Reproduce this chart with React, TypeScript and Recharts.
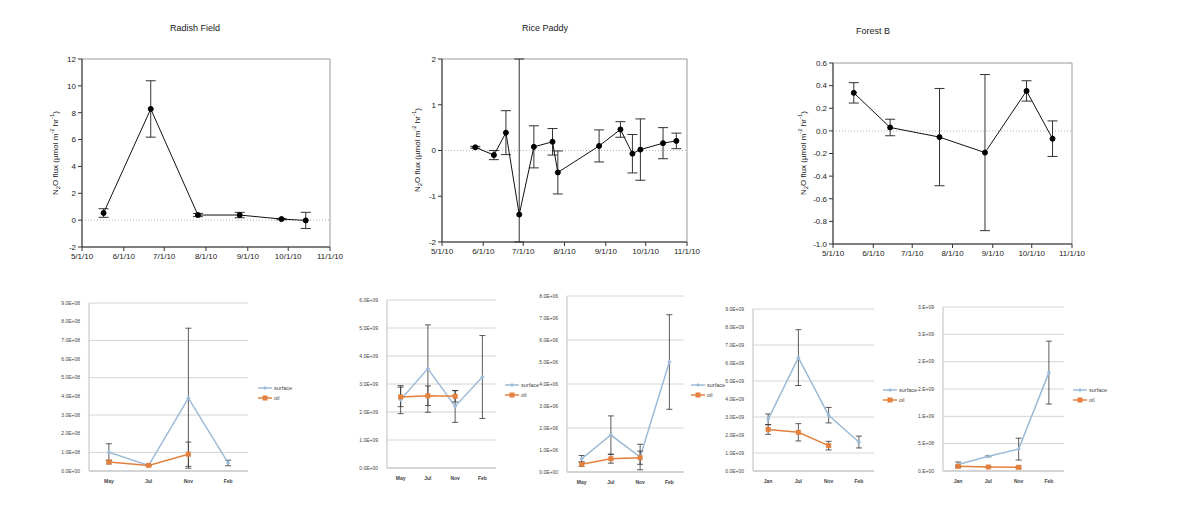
import React from "react";
import {
  LineChart,
  Line,
  XAxis,
  YAxis,
  ErrorBar,
  ReferenceLine,
  ReferenceArea,
  CartesianGrid,
  Legend,
} from "recharts";

const FONT = "'Liberation Sans', Arial, Helvetica, sans-serif";
const SURF = "#9dbbd8";
const OIL = "#e3803e";

// ---- top row: N2O flux by sampling date ----
const monthStarts = ["2010-05-01", "2010-06-01", "2010-07-01", "2010-08-01", "2010-09-01", "2010-10-01", "2010-11-01"];
const monthLabels = ["5/1/10", "6/1/10", "7/1/10", "8/1/10", "9/1/10", "10/1/10", "11/1/10"];

const radishDates = ["2010-05-17", "2010-06-21", "2010-07-26", "2010-08-26", "2010-09-26", "2010-10-14"];
const radishFlux = [0.53, 8.28, 0.38, 0.38, 0.08, -0.02];
const radishErr = [[0.32, 0.32], [2.1, 2.1], [0.12, 0.12], [0.2, 0.2], [0.05, 0.05], [0.6, 0.6]];

const riceDates = [
  "2010-05-26", "2010-06-09", "2010-06-18", "2010-06-28", "2010-07-09", "2010-07-23", "2010-07-27",
  "2010-08-27", "2010-09-12", "2010-09-21", "2010-09-27", "2010-10-14", "2010-10-24",
];
const riceFlux = [0.07, -0.1, 0.39, -1.4, 0.08, 0.19, -0.48, 0.1, 0.46, -0.07, 0.02, 0.16, 0.21];
const riceErr = [
  [0.02, 0.02], [0.1, 0.1], [0.48, 0.48], [0.6, 3.4], [0.46, 0.46], [0.29, 0.29], [0.47, 0.47],
  [0.35, 0.35], [0.17, 0.17], [0.42, 0.42], [0.67, 0.67], [0.34, 0.34], [0.17, 0.17],
];

const forestDates = ["2010-05-17", "2010-06-14", "2010-07-22", "2010-08-26", "2010-09-27", "2010-10-17"];
const forestFlux = [0.336, 0.03, -0.055, -0.192, 0.353, -0.069];
const forestErr = [[0.09, 0.09], [0.073, 0.073], [0.43, 0.43], [0.69, 0.69], [0.09, 0.09], [0.157, 0.157]];

// ---- bottom row: surface vs oil ----
const seasonsA = ["May", "Jul", "Nov", "Feb"];
const seasonsB = ["Jan", "Jul", "Nov", "Feb"];

const b1Surface = [1.0e8, 0.3e8, 3.9e8, 0.43e8];
const b1SurfaceErr = [0.46e8, 0.02e8, 3.75e8, 0.15e8];
const b1Oil = [0.48e8, 0.3e8, 0.9e8, null];
const b1OilErr = [0.1e8, 0.02e8, 0.65e8, null];

const b2Surface = [2.44e9, 3.55e9, 2.2e9, 3.25e9];
const b2SurfaceErr = [0.5e9, 1.56e9, 0.57e9, 1.48e9];
const b2Oil = [2.54e9, 2.58e9, 2.56e9, null];
const b2OilErr = [0.35e9, 0.35e9, 0.2e9, null];

const b3Surface = [0.6e6, 1.68e6, 0.68e6, 5.0e6];
const b3SurfaceErr = [0.15e6, 0.87e6, 0.58e6, 2.15e6];
const b3Oil = [0.35e6, 0.6e6, 0.65e6, null];
const b3OilErr = [0.1e6, 0.2e6, 0.3e6, null];

const b4Surface = [2.87e9, 6.3e9, 3.1e9, 1.61e9];
const b4SurfaceErr = [0.3e9, 1.55e9, 0.43e9, 0.33e9];
const b4Oil = [2.31e9, 2.15e9, 1.41e9, null];
const b4OilErr = [0.27e9, 0.48e9, 0.24e9, null];

const b5Surface = [0.12e9, 0.27e9, 0.4e9, 1.8e9];
const b5SurfaceErr = [0.045e9, 0.01e9, 0.2e9, 0.575e9];
const b5Oil = [0.085e9, 0.073e9, 0.067e9, null];
const b5OilErr = [0.02e9, 0.01e9, 0.02e9, null];

const DAY = 86400000;
const t0 = Date.parse("2010-05-01");
const dayOf = (d: string) => (Date.parse(d) - t0) / DAY;
const tickDays = monthStarts.map(dayOf);

const expFmt = (digits: number) => (v: number) => {
  if (v === 0) return digits ? "0." + "0".repeat(digits) + "E+00" : "0.E+00";
  const [m, e] = v.toExponential(digits).split("e");
  const ex = parseInt(e, 10);
  return (digits ? m : m + ".") + "E" + (ex < 0 ? "-" : "+") + String(Math.abs(ex)).padStart(2, "0");
};

function TopPanel({ title, dates, flux, err, yMin, yMax, yTicks, decimals, box, titleAt, labelAt }: any) {
  const rows = dates.map((d: string, i: number) => ({ day: dayOf(d), flux: flux[i], err: err[i] }));
  const x0 = box.left - 50;
  const w = box.right - x0 + 20;
  const h = box.bottom + 30;
  return (
    <>
      <div
        style={{
          position: "absolute", left: titleAt[0], top: titleAt[1], transform: "translate(-50%,-50%)",
          fontFamily: FONT, fontSize: 9, color: "#222", whiteSpace: "nowrap",
        }}
      >
        {title}
      </div>
      <div
        style={{
          position: "absolute", left: labelAt[0], top: labelAt[1],
          transform: "translate(-50%,-50%) rotate(-90deg)",
          fontFamily: FONT, fontSize: 8, color: "#222", whiteSpace: "nowrap", lineHeight: "10px",
        }}
      >
        N<sub style={{ fontSize: 6 }}>2</sub>O flux (µmol m<sup style={{ fontSize: 6 }}>-2</sup> hr
        <sup style={{ fontSize: 6 }}>-1</sup>)
      </div>
      <div style={{ position: "absolute", left: x0, top: 0 }}>
        <LineChart
          width={w}
          height={h}
          data={rows}
          margin={{ top: box.top, right: 20, bottom: h - box.bottom - 20, left: 0 }}
        >
          <XAxis
            dataKey="day"
            type="number"
            domain={[0, 184]}
            ticks={tickDays}
            tickFormatter={(v: number) => monthLabels[tickDays.indexOf(v)] ?? ""}
            height={20}
            tickSize={4}
            stroke="#333"
            tick={{ fontSize: 8, fill: "#222", fontFamily: FONT }}
          />
          <YAxis
            type="number"
            domain={[yMin, yMax]}
            ticks={yTicks}
            allowDataOverflow
            width={50}
            tickSize={4}
            stroke="#333"
            tickFormatter={(v: number) => v.toFixed(decimals)}
            tick={{ fontSize: 8, fill: "#222", fontFamily: FONT }}
          />
          <ReferenceArea x1={0} x2={184} y1={yMin} y2={yMax} fill="none" stroke="#999" strokeWidth={1} />
          <ReferenceLine y={0} stroke="#b5b5b5" strokeDasharray="1 2" />
          <Line
            dataKey="flux"
            stroke="#111"
            strokeWidth={1}
            dot={{ r: 2.5, fill: "#000", stroke: "#000" }}
            isAnimationActive={false}
          >
            <ErrorBar dataKey="err" stroke="#333" width={5} strokeWidth={1} />
          </Line>
        </LineChart>
      </div>
    </>
  );
}

const diamondDot = (props: any) => {
  const { cx, cy, index } = props;
  if (cx == null || cy == null) return <g key={index} />;
  return (
    <path
      key={index}
      d={`M${cx},${cy - 2.2}L${cx + 2.2},${cy}L${cx},${cy + 2.2}L${cx - 2.2},${cy}Z`}
      fill={SURF}
    />
  );
};

const squareDot = (props: any) => {
  const { cx, cy, index } = props;
  if (cx == null || cy == null) return <g key={index} />;
  return <rect key={index} x={cx - 2.5} y={cy - 2.5} width={5} height={5} fill={OIL} />;
};

const renderLegend = (props: any) => {
  const items = [...(props.payload || [])].sort((a: any, b: any) =>
    a.dataKey === "surface" ? -1 : b.dataKey === "surface" ? 1 : 0
  );
  return (
    <svg width={45} height={22}>
      {items.map((p: any, i: number) => {
        const y = 5 + i * 10;
        const c = p.dataKey === "oil" ? OIL : SURF;
        return (
          <g key={p.value}>
            <line x1={0} y1={y} x2={14} y2={y} stroke={c} strokeWidth={1.5} />
            {p.dataKey === "oil" ? (
              <rect x={4.5} y={y - 2.5} width={5} height={5} fill={OIL} />
            ) : (
              <path d={`M7,${y - 2}L9,${y}L7,${y + 2}L5,${y}Z`} fill={SURF} />
            )}
            <text x={16} y={y + 2} fontSize={5.5} fill="#444" fontFamily={FONT}>
              {p.value}
            </text>
          </g>
        );
      })}
    </svg>
  );
};

function BottomPanel({ cats, surface, surfaceErr, oil, oilErr, yMax, yTicks, fmt, box, legendAt }: any) {
  const rows = cats.map((c: string, i: number) => ({
    cat: c,
    surface: surface[i],
    surfaceErr: surfaceErr[i],
    oil: oil[i],
    oilErr: oilErr[i],
  }));
  const x0 = box.left - 50;
  const y0 = box.top - 10;
  const w = legendAt[0] + 45 - x0;
  const h = box.bottom + 20 - y0;
  return (
    <div style={{ position: "absolute", left: x0, top: y0 }}>
      <LineChart
        width={w}
        height={h}
        data={rows}
        margin={{ top: 10, left: 0, right: w - (box.right - x0), bottom: h - (box.bottom - y0) - 12 }}
      >
        <CartesianGrid vertical={false} stroke="#d4d4d4" />
        <XAxis
          dataKey="cat"
          scale="band"
          height={12}
          interval={0}
          tickLine={false}
          axisLine={{ stroke: "#bfbfbf" }}
          tick={{ fontSize: 5, fill: "#444", fontFamily: FONT, fontWeight: 700 }}
        />
        <YAxis
          type="number"
          domain={[0, yMax]}
          ticks={yTicks}
          width={50}
          tickLine={false}
          tickMargin={3}
          axisLine={{ stroke: "#bfbfbf" }}
          tickFormatter={fmt}
          tick={{ fontSize: 5, fill: "#444", fontFamily: FONT }}
        />
        <Legend
          content={renderLegend}
          layout="vertical"
          align="center"
          verticalAlign="middle"
          wrapperStyle={{ left: legendAt[0] - x0, top: legendAt[1] - y0 - 5, width: 45, height: 22 }}
        />
        <Line
          dataKey="surface"
          name="surface"
          stroke={SURF}
          strokeWidth={1.5}
          dot={diamondDot}
          isAnimationActive={false}
        >
          <ErrorBar dataKey="surfaceErr" stroke="#333" width={3} strokeWidth={0.8} />
        </Line>
        <Line dataKey="oil" name="oil" stroke={OIL} strokeWidth={1.5} dot={squareDot} isAnimationActive={false}>
          <ErrorBar dataKey="oilErr" stroke="#333" width={3} strokeWidth={0.8} />
        </Line>
      </LineChart>
    </div>
  );
}

export default function App() {
  return (
    <div style={{ position: "absolute", left: 0, top: 0, width: 1189, height: 514, background: "#fff", overflow: "hidden" }}>
      <TopPanel
        title="Radish Field"
        dates={radishDates}
        flux={radishFlux}
        err={radishErr}
        yMin={-2}
        yMax={12}
        yTicks={[-2, 0, 2, 4, 6, 8, 10, 12]}
        decimals={0}
        box={{ left: 82, right: 330, top: 59, bottom: 247 }}
        titleAt={[195, 28]}
        labelAt={[55, 153]}
      />
      <TopPanel
        title="Rice Paddy"
        dates={riceDates}
        flux={riceFlux}
        err={riceErr}
        yMin={-2}
        yMax={2}
        yTicks={[-2, -1, 0, 1, 2]}
        decimals={0}
        box={{ left: 442, right: 687, top: 59, bottom: 242 }}
        titleAt={[545, 28]}
        labelAt={[417, 150]}
      />
      <TopPanel
        title="Forest B"
        dates={forestDates}
        flux={forestFlux}
        err={forestErr}
        yMin={-1}
        yMax={0.6}
        yTicks={[-1, -0.8, -0.6, -0.4, -0.2, 0, 0.2, 0.4, 0.6]}
        decimals={1}
        box={{ left: 833, right: 1072, top: 63, bottom: 244 }}
        titleAt={[873, 31]}
        labelAt={[803, 153]}
      />

      <BottomPanel
        cats={seasonsA}
        surface={b1Surface}
        surfaceErr={b1SurfaceErr}
        oil={b1Oil}
        oilErr={b1OilErr}
        yMax={9e8}
        yTicks={[0, 1e8, 2e8, 3e8, 4e8, 5e8, 6e8, 7e8, 8e8, 9e8]}
        fmt={expFmt(1)}
        box={{ left: 89, right: 248, top: 303, bottom: 471 }}
        legendAt={[258, 388]}
      />
      <BottomPanel
        cats={seasonsA}
        surface={b2Surface}
        surfaceErr={b2SurfaceErr}
        oil={b2Oil}
        oilErr={b2OilErr}
        yMax={6e9}
        yTicks={[0, 1e9, 2e9, 3e9, 4e9, 5e9, 6e9]}
        fmt={expFmt(1)}
        box={{ left: 387, right: 496, top: 300, bottom: 468 }}
        legendAt={[505, 385]}
      />
      <BottomPanel
        cats={seasonsA}
        surface={b3Surface}
        surfaceErr={b3SurfaceErr}
        oil={b3Oil}
        oilErr={b3OilErr}
        yMax={8e6}
        yTicks={[0, 1e6, 2e6, 3e6, 4e6, 5e6, 6e6, 7e6, 8e6]}
        fmt={expFmt(1)}
        box={{ left: 567, right: 684, top: 296, bottom: 472 }}
        legendAt={[691, 385]}
      />
      <BottomPanel
        cats={seasonsB}
        surface={b4Surface}
        surfaceErr={b4SurfaceErr}
        oil={b4Oil}
        oilErr={b4OilErr}
        yMax={9e9}
        yTicks={[0, 1e9, 2e9, 3e9, 4e9, 5e9, 6e9, 7e9, 8e9, 9e9]}
        fmt={expFmt(1)}
        box={{ left: 753, right: 874, top: 309, bottom: 471 }}
        legendAt={[883, 390]}
      />
      <BottomPanel
        cats={seasonsB}
        surface={b5Surface}
        surfaceErr={b5SurfaceErr}
        oil={b5Oil}
        oilErr={b5OilErr}
        yMax={3e9}
        yTicks={[0, 5e8, 1e9, 1.5e9, 2e9, 2.5e9, 3e9]}
        fmt={expFmt(0)}
        box={{ left: 943, right: 1064, top: 307, bottom: 471 }}
        legendAt={[1073, 390]}
      />
    </div>
  );
}
